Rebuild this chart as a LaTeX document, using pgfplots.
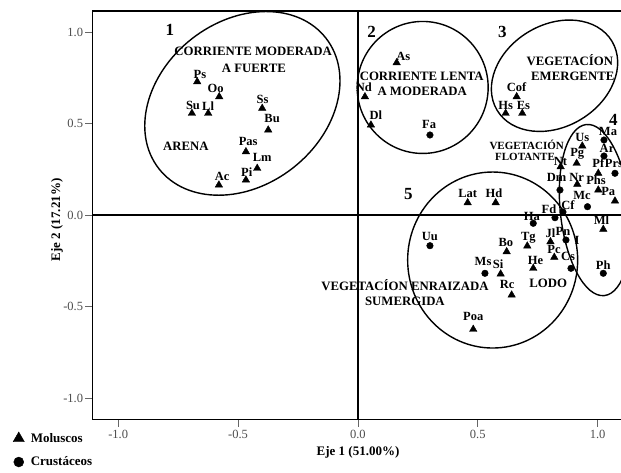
\documentclass[border=0pt]{standalone}
\usepackage{fontspec}
\setmainfont{Liberation Serif}
\usepackage{pgfplots}
\pgfplotsset{compat=1.18}
\newcommand{\lbl}{\bfseries\fontsize{12.5}{14}\selectfont}
\newcommand{\reg}{\bfseries\fontsize{12.8}{14}\selectfont}
\newcommand{\num}{\bfseries\fontsize{17}{18}\selectfont}
\begin{document}
\begin{tikzpicture}
\begin{axis}[
  at={(0,0)}, anchor=south west,
  scale only axis, width=532.7pt, height=408.5pt,
  xmin=-1.108, xmax=1.114, ymin=-1.1175, ymax=1.1148,
  axis line style={line width=1.5pt, black},
  tick align=outside, tick pos=left,
  xtick={-1,-0.5,0,0.5,1}, xticklabels={-1.0,-0.5,0.0,0.5,1.0},
  ytick={-1,-0.5,0,0.5,1}, yticklabels={-1.0,-0.5,0.0,0.5,1.0},
  major tick length=7pt,
  tick style={line width=0.8pt, color=black!60},
  ticklabel style={font=\fontsize{12.5}{14}\selectfont, text=black!70},
  yticklabel style={inner sep=2pt},
  xticklabel style={inner sep=0pt, yshift=-3pt},
  legend style={at={(-0.1490,-0.0282)}, anchor=north west, draw=none, fill=none,
    font=\bfseries\fontsize{13}{15}\selectfont, row sep=9pt, inner sep=0pt},
  legend cell align=left,
  legend image code/.code={\path[#1] plot coordinates {(0.3cm,0cm)}; \path[draw=none,fill=none] (0.3cm,0cm) -- ++(10pt,0pt);},
]
% zero lines
\draw[line width=1.7pt] (axis cs:0,-1.2) -- (axis cs:0,1.2);
\draw[line width=1.7pt] (axis cs:-1.2,0) -- (axis cs:1.2,0);
% ellipses
\draw[line width=1.4pt, rotate around={38:(axis cs:-0.482,0.610)}] (axis cs:-0.482,0.610) ellipse [x radius=106pt, y radius=82pt];
\draw[line width=1.4pt] (axis cs:0.270,0.697) ellipse [x radius=65.5pt, y radius=66pt];
\draw[line width=1.4pt, rotate around={31:(axis cs:0.820,0.761)}] (axis cs:0.820,0.761) ellipse [x radius=67pt, y radius=51pt];
\draw[line width=1.4pt, rotate around={96:(axis cs:0.990,0.027)}] (axis cs:0.990,0.027) ellipse [x radius=86pt, y radius=35pt];
\draw[line width=1.4pt] (axis cs:0.562,-0.246) ellipse [x radius=85pt, y radius=88pt];

\addplot[only marks, mark=triangle*, mark size=4.3pt, black, legend image post style={mark size=6.5pt}] table {
x y
-0.6704 0.7284
-0.5786 0.6464
-0.6925 0.5557
-0.6245 0.5557
-0.3993 0.5831
-0.3742 0.4645
-0.4672 0.3459
-0.4201 0.2552
-0.4672 0.1913
-0.5799 0.1639
0.1615 0.8322
0.0292 0.6464
0.0542 0.4918
0.6621 0.6464
0.6162 0.5557
0.6855 0.5557
0.9358 0.3770
0.9124 0.2825
1.0025 0.2279
0.8456 0.2639
0.9149 0.1678
1.0025 0.1366
1.0722 0.0765
0.4577 0.0672
0.5745 0.0672
1.0234 -0.0781
0.6204 -0.2005
0.7063 -0.1694
0.8031 -0.1459
0.8190 -0.2311
0.7313 -0.2913
0.5953 -0.3224
0.6412 -0.4372
0.4810 -0.6246
};
\addlegendentry{Moluscos}
\addplot[only marks, mark=*, mark size=3.3pt, black, legend image post style={mark size=5pt}] table {
x y
0.3004 0.4372
1.0263 0.4098
1.0263 0.3224
1.0722 0.2279
0.8427 0.1366
0.9575 0.0454
0.8219 -0.0148
0.8552 0.0164
0.7313 -0.0454
0.3004 -0.1678
0.8678 -0.1366
0.8886 -0.2913
1.0234 -0.3186
0.5298 -0.3186
};
\addlegendentry{Crustáceos}
\addplot[draw=none, forget plot, nodes near coords, point meta=explicit symbolic,
  every node near coord/.append style={anchor=center, inner sep=0pt, font=\lbl, text=black}]
  table[meta=label] {
x y label
-0.659 0.770 Ps
-0.594 0.692 Oo
-0.688 0.596 Su
-0.625 0.596 Ll
-0.398 0.632 Ss
-0.358 0.528 Bu
-0.458 0.401 Pas
-0.399 0.315 Lm
-0.464 0.233 Pi
-0.566 0.213 Ac
0.189 0.865 As
0.025 0.698 Nd
0.075 0.546 Dl
0.297 0.492 Fa
0.662 0.698 Cof
0.616 0.596 Hs
0.690 0.596 Es
1.043 0.455 Ma
0.936 0.425 Us
1.039 0.364 Ar
0.915 0.332 Pg
1.003 0.282 Pf
1.068 0.282 Prs
0.845 0.291 Nt
0.829 0.206 Dm
0.912 0.206 Nr
0.993 0.191 Phs
0.935 0.107 Mc
1.044 0.127 Pa
0.876 0.055 Cf
0.797 0.033 Fd
0.726 -0.008 Ha
1.016 -0.027 Ml
0.458 0.119 Lat
0.567 0.119 Hd
0.300 -0.115 Uu
0.617 -0.150 Bo
0.711 -0.122 Tg
0.803 -0.098 Jl
0.855 -0.087 Pn
0.914 -0.137 I
0.818 -0.191 Pc
0.876 -0.229 Cs
0.741 -0.249 He
1.023 -0.273 Ph
0.522 -0.253 Ms
0.585 -0.270 Si
0.622 -0.382 Rc
0.481 -0.557 Poa
};
% region labels
\node[font=\num] at (axis cs:-0.784,1.011) {1};
\node[font=\num] at (axis cs:0.057,1.002) {2};
\node[font=\num] at (axis cs:0.602,1.002) {3};
\node[font=\num] at (axis cs:1.065,0.519) {4};
\node[font=\num] at (axis cs:0.210,0.115) {5};
\node[font=\reg] at (axis cs:-0.437,0.892) {CORRIENTE MODERADA};
\node[font=\reg] at (axis cs:-0.434,0.802) {A FUERTE};
\node[font=\reg] at (axis cs:-0.718,0.373) {ARENA};
\node[font=\reg] at (axis cs:0.266,0.760) {CORRIENTE LENTA};
\node[font=\reg] at (axis cs:0.268,0.678) {A MODERADA};
\node[font=\reg] at (axis cs:0.884,0.847) {VEGETACÍON};
\node[font=\reg] at (axis cs:0.896,0.760) {EMERGENTE};
\node[font=\bfseries\fontsize{11}{12}\selectfont] at (axis cs:0.704,0.382) {VEGETACIÓN};
\node[font=\bfseries\fontsize{11}{12}\selectfont] at (axis cs:0.697,0.319) {FLOTANTE};
\node[font=\reg] at (axis cs:0.196,-0.382) {VEGETACÍON ENRAIZADA};
\node[font=\reg] at (axis cs:0.196,-0.474) {SUMERGIDA};
\node[font=\reg] at (axis cs:0.794,-0.373) {LODO};
\end{axis}
\node[font=\bfseries\fontsize{13}{15}\selectfont] at (265.7pt,-32.5pt) {Eje 1 (51.00\%)};
\node[font=\bfseries\fontsize{13}{15}\selectfont, rotate=90] at (-35.3pt,199.5pt) {Eje 2 (17.21\%)};
\pgfresetboundingbox
\useasboundingbox (-92.3pt,-52.5pt) rectangle (528.7pt,419.5pt);
\end{tikzpicture}
\end{document}
